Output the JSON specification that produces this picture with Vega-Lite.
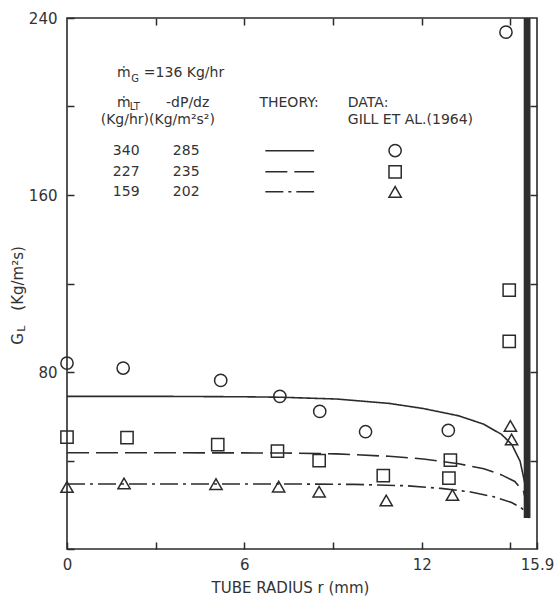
{
  "$schema": "https://vega.github.io/schema/vega-lite/v6.json",
  "width": 470,
  "height": 531,
  "autosize": {"type": "none"},
  "padding": {"left": 67, "top": 18, "right": 17, "bottom": 50},
  "background": "white",
  "config": {
    "view": {"stroke": "#2b2b2b", "strokeWidth": 1.6},
    "axis": {"grid": false, "domain": false, "labelFont": "DejaVu Sans", "labelFontSize": 15, "labelColor": "#333", "titleFont": "DejaVu Sans", "titleFontSize": 15, "titleFontWeight": "normal", "titleColor": "#333", "tickColor": "#2b2b2b", "tickWidth": 1.5},
    "text": {"font": "DejaVu Sans", "fontSize": 15, "color": "#333"}
  },
  "datasets": {
    "film": [{"r0": 15.45, "r1": 15.68, "g0": 14, "g1": 240}],
    "theory": [
      {"r": 0, "G": 69, "case": "340"}, {"r": 3, "G": 69, "case": "340"}, {"r": 6, "G": 68.8, "case": "340"}, {"r": 7.2, "G": 68.6, "case": "340"}, {"r": 9.1, "G": 67.8, "case": "340"}, {"r": 10.9, "G": 65.8, "case": "340"}, {"r": 12.05, "G": 63.5, "case": "340"}, {"r": 13.25, "G": 60.2, "case": "340"}, {"r": 14.1, "G": 56.4, "case": "340"}, {"r": 14.7, "G": 51.8, "case": "340"}, {"r": 15.05, "G": 47.2, "case": "340"}, {"r": 15.33, "G": 39.6, "case": "340"}, {"r": 15.5, "G": 29, "case": "340"}, {"r": 15.6, "G": 15, "case": "340"},
      {"r": 0, "G": 43.5, "case": "227"}, {"r": 3, "G": 43.5, "case": "227"}, {"r": 7.3, "G": 43.4, "case": "227"}, {"r": 9.1, "G": 43, "case": "227"}, {"r": 10.9, "G": 41.9, "case": "227"}, {"r": 12.05, "G": 40.7, "case": "227"}, {"r": 13.25, "G": 38.5, "case": "227"}, {"r": 14.1, "G": 36.3, "case": "227"}, {"r": 14.7, "G": 33.5, "case": "227"}, {"r": 15.15, "G": 30.5, "case": "227"}, {"r": 15.45, "G": 25.9, "case": "227"}, {"r": 15.62, "G": 15, "case": "227"},
      {"r": 0, "G": 29.4, "case": "159"}, {"r": 3, "G": 29.4, "case": "159"}, {"r": 7.3, "G": 29.4, "case": "159"}, {"r": 9.7, "G": 29.2, "case": "159"}, {"r": 11.45, "G": 28.6, "case": "159"}, {"r": 12.65, "G": 27.4, "case": "159"}, {"r": 13.6, "G": 25.9, "case": "159"}, {"r": 14.44, "G": 23.6, "case": "159"}, {"r": 15.04, "G": 21, "case": "159"}, {"r": 15.4, "G": 18.3, "case": "159"}, {"r": 15.62, "G": 14, "case": "159"}
    ],
    "keylines": [
      {"r": 6.71, "G": 180, "case": "340"}, {"r": 8.36, "G": 180, "case": "340"},
      {"r": 6.71, "G": 170.5, "case": "227"}, {"r": 8.36, "G": 170.5, "case": "227"},
      {"r": 6.71, "G": 161.5, "case": "159"}, {"r": 8.36, "G": 161.5, "case": "159"}
    ],
    "points": [
      {"r": 0, "G": 84, "case": "340"}, {"r": 1.9, "G": 81.8, "case": "340"}, {"r": 5.2, "G": 76.2, "case": "340"}, {"r": 7.2, "G": 69, "case": "340"}, {"r": 8.55, "G": 62.2, "case": "340"}, {"r": 10.1, "G": 53, "case": "340"}, {"r": 12.9, "G": 53.6, "case": "340"}, {"r": 14.85, "G": 233.6, "case": "340"},
      {"r": 0, "G": 50.6, "case": "227"}, {"r": 2.03, "G": 50.3, "case": "227"}, {"r": 5.1, "G": 47.2, "case": "227"}, {"r": 7.12, "G": 44.2, "case": "227"}, {"r": 8.53, "G": 39.9, "case": "227"}, {"r": 10.7, "G": 33.2, "case": "227"}, {"r": 12.97, "G": 40.2, "case": "227"}, {"r": 12.92, "G": 32, "case": "227"}, {"r": 14.96, "G": 93.8, "case": "227"}, {"r": 14.96, "G": 117, "case": "227"},
      {"r": 0, "G": 28, "case": "159"}, {"r": 1.93, "G": 29.6, "case": "159"}, {"r": 5.04, "G": 29.3, "case": "159"}, {"r": 7.16, "G": 28.2, "case": "159"}, {"r": 8.53, "G": 25.9, "case": "159"}, {"r": 10.8, "G": 21.9, "case": "159"}, {"r": 13.04, "G": 24.4, "case": "159"}, {"r": 15.0, "G": 55.6, "case": "159"}, {"r": 15.04, "G": 49.5, "case": "159"}
    ],
    "keypoints": [
      {"r": 11.1, "G": 180.1, "case": "340"}, {"r": 11.1, "G": 170.5, "case": "227"}, {"r": 11.1, "G": 161.4, "case": "159"}
    ],
    "texts": [
      {"x": 1.69, "y": 215, "t": "ṁ"}, {"x": 2.6, "y": 215, "t": "=136 Kg/hr"},
      {"x": 1.69, "y": 201.8, "t": "ṁ"}, {"x": 3.35, "y": 201.8, "t": "-dP/dz"}, {"x": 6.51, "y": 201.8, "t": "THEORY:"}, {"x": 9.5, "y": 201.8, "t": "DATA:"},
      {"x": 1.14, "y": 193.9, "t": "(Kg/hr)(Kg/m²s²)"}, {"x": 9.5, "y": 193.9, "t": "GILL ET AL.(1964)"},
      {"x": 1.55, "y": 180, "t": "340"}, {"x": 3.58, "y": 180, "t": "285"},
      {"x": 1.55, "y": 170.5, "t": "227"}, {"x": 3.58, "y": 170.5, "t": "235"},
      {"x": 1.55, "y": 161.5, "t": "159"}, {"x": 3.58, "y": 161.5, "t": "202"}
    ],
    "subs": [
      {"x": 2.17, "y": 212.3, "t": "G"}, {"x": 2.12, "y": 199.6, "t": "LT"}
    ],
    "ytitle": [
      {"x": -1.66, "y": 95, "t": "G"}, {"x": -1.52, "y": 99.6, "t": "L"}, {"x": -1.66, "y": 122.3, "t": "(Kg/m²s)"}
    ]
  },
  "layer": [
    {
      "data": {"name": "film"},
      "mark": {"type": "rect", "color": "#2e2e2e"},
      "encoding": {
        "x": {"field": "r0", "type": "quantitative", "scale": {"domain": [0, 15.9], "nice": false, "zero": false},
          "axis": {"orient": "bottom", "values": [0, 3, 6, 9, 12, 15, 15.9], "format": ".1~f", "labelExpr": "datum.value == 0 || datum.value == 6 || datum.value == 12 || datum.value == 15.9 ? datum.label : ''", "tickSize": -7, "labelPadding": 15, "labelFlush": false, "title": "TUBE RADIUS  r  (mm)", "titlePadding": 8, "titleX": 223}},
        "x2": {"field": "r1"},
        "y": {"field": "g0", "type": "quantitative", "scale": {"domain": [0, 240], "nice": false, "zero": false},
          "axis": {"orient": "left", "values": [0, 40, 80, 120, 160, 200, 240], "labelExpr": "datum.value == 80 || datum.value == 160 || datum.value == 240 ? datum.label : ''", "tickSize": -7, "labelPadding": 17, "title": null}},
        "y2": {"field": "g1"}
      }
    },
    {
      "data": {"name": "theory"},
      "mark": {"type": "line", "color": "#2b2b2b", "strokeWidth": 1.6},
      "encoding": {
        "x": {"field": "r", "type": "quantitative", "scale": {"domain": [0, 15.9], "nice": false, "zero": false},
          "axis": {"orient": "top", "values": [3, 6, 9, 12, 15], "labels": false, "tickSize": -7, "title": null}},
        "y": {"field": "G", "type": "quantitative", "scale": {"domain": [0, 240], "nice": false, "zero": false},
          "axis": {"orient": "right", "values": [40, 80, 120, 160, 200], "labels": false, "tickSize": -7, "title": null}},
        "strokeDash": {"field": "case", "type": "nominal", "scale": {"domain": ["340", "227", "159"], "range": [[1, 0], [22, 7], [18, 5, 3, 5]]}, "legend": null}
      }
    },
    {
      "data": {"name": "keylines"},
      "mark": {"type": "line", "color": "#2b2b2b", "strokeWidth": 1.6},
      "encoding": {
        "x": {"field": "r", "type": "quantitative", "scale": {"domain": [0, 15.9], "nice": false, "zero": false}, "axis": null},
        "y": {"field": "G", "type": "quantitative", "scale": {"domain": [0, 240], "nice": false, "zero": false}, "axis": null},
        "strokeDash": {"field": "case", "type": "nominal", "scale": {"domain": ["340", "227", "159"], "range": [[1, 0], [22, 7], [18, 5, 3, 5]]}, "legend": null}
      }
    },
    {
      "data": {"name": "points"},
      "mark": {"type": "point", "filled": false, "color": "#2b2b2b", "strokeWidth": 1.5, "opacity": 1},
      "encoding": {
        "x": {"field": "r", "type": "quantitative", "scale": {"domain": [0, 15.9], "nice": false, "zero": false}, "axis": null},
        "y": {"field": "G", "type": "quantitative", "scale": {"domain": [0, 240], "nice": false, "zero": false}, "axis": null},
        "shape": {"field": "case", "type": "nominal", "scale": {"domain": ["340", "227", "159"], "range": ["circle", "square", "triangle-up"]}, "legend": null},
        "size": {"field": "case", "type": "nominal", "scale": {"domain": ["340", "227", "159"], "range": [150, 150, 70]}, "legend": null}
      }
    },
    {
      "data": {"name": "keypoints"},
      "mark": {"type": "point", "filled": false, "color": "#2b2b2b", "strokeWidth": 1.5, "opacity": 1},
      "encoding": {
        "x": {"field": "r", "type": "quantitative", "scale": {"domain": [0, 15.9], "nice": false, "zero": false}, "axis": null},
        "y": {"field": "G", "type": "quantitative", "scale": {"domain": [0, 240], "nice": false, "zero": false}, "axis": null},
        "shape": {"field": "case", "type": "nominal", "scale": {"domain": ["340", "227", "159"], "range": ["circle", "square", "triangle-up"]}, "legend": null},
        "size": {"field": "case", "type": "nominal", "scale": {"domain": ["340", "227", "159"], "range": [120, 120, 60]}, "legend": null}
      }
    },
    {
      "data": {"name": "texts"},
      "mark": {"type": "text", "align": "left", "baseline": "middle", "fontSize": 14},
      "encoding": {
        "x": {"field": "x", "type": "quantitative", "scale": {"domain": [0, 15.9], "nice": false, "zero": false}, "axis": null},
        "y": {"field": "y", "type": "quantitative", "scale": {"domain": [0, 240], "nice": false, "zero": false}, "axis": null},
        "text": {"field": "t"}
      }
    },
    {
      "data": {"name": "subs"},
      "mark": {"type": "text", "align": "left", "baseline": "middle", "fontSize": 10},
      "encoding": {
        "x": {"field": "x", "type": "quantitative", "scale": {"domain": [0, 15.9], "nice": false, "zero": false}, "axis": null},
        "y": {"field": "y", "type": "quantitative", "scale": {"domain": [0, 240], "nice": false, "zero": false}, "axis": null},
        "text": {"field": "t"}
      }
    },
    {
      "data": {"name": "ytitle"},
      "mark": {"type": "text", "align": "center", "baseline": "middle", "angle": 270, "fontSize": 15},
      "encoding": {
        "x": {"field": "x", "type": "quantitative", "scale": {"domain": [0, 15.9], "nice": false, "zero": false}, "axis": null},
        "y": {"field": "y", "type": "quantitative", "scale": {"domain": [0, 240], "nice": false, "zero": false}, "axis": null},
        "text": {"field": "t"},
        "size": {"condition": {"test": "datum.t == 'L'", "value": 11}, "value": 15}
      }
    }
  ],
  "resolve": {"axis": {"x": "independent", "y": "independent"}}
}
